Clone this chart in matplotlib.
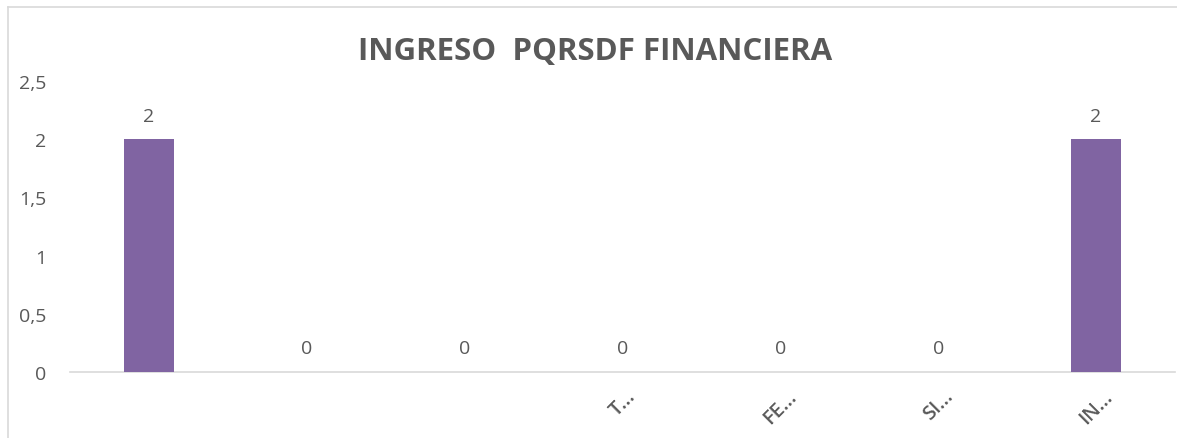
import matplotlib
matplotlib.use("Agg")
import matplotlib.pyplot as plt
from matplotlib.lines import Line2D

categories = ["", "", "", "T…", "FE…", "SI…", "IN…"]
values = [2, 0, 0, 0, 0, 0, 2]
yticks = [0, 0.5, 1, 1.5, 2, 2.5]
ytick_labels = ["0", "0,5", "1", "1,5", "2", "2,5"]
title = "INGRESO  PQRSDF FINANCIERA"

W, H = 1177, 439
plt.rcParams['font.family'] = ['Open Sans', 'DejaVu Sans']
text_color = "#595959"
bar_color = "#8064A2"
line_color = "#D9D9D9"

fig = plt.figure(figsize=(W / 100, H / 100), dpi=100)
ax = fig.add_axes([70 / W, 1 - 373 / H, (1175 - 70) / W, (373 - 82) / H])

x = list(range(len(categories)))
ax.bar(x, values, width=0.317, color=bar_color, zorder=3)
ax.set_xlim(-0.5, len(categories) - 0.5)
ax.set_ylim(0, 2.5)
ax.set_yticks(yticks)
ax.set_yticklabels(ytick_labels, fontsize=14, color=text_color)
ax.set_xticks(x)
ax.set_xticklabels(categories, rotation=45, ha="center", va="top",
                   fontsize=14.5, color=text_color, fontweight="semibold")
ax.tick_params(axis="y", length=0, pad=17)
ax.tick_params(axis="x", length=0, pad=10)
for s in ["top", "right", "left"]:
    ax.spines[s].set_visible(False)
ax.spines["bottom"].set_color(line_color)
ax.spines["bottom"].set_linewidth(1.2)

for xi, v in zip(x, values):
    ax.annotate(str(v), (xi, v), xytext=(0, 10.5), textcoords="offset points",
                ha="center", va="bottom", fontsize=14, color=text_color)

fig.text(595.5 / W, 1 - 52 / H, title, ha="center", va="center",
         fontsize=22.5, fontweight="bold", color=text_color)

fig.add_artist(Line2D([7.5 / W, 7.5 / W], [0, 1 - 7.5 / H],
                      transform=fig.transFigure, color=line_color, linewidth=1.2))
fig.add_artist(Line2D([7.5 / W, 1], [1 - 7.5 / H, 1 - 7.5 / H],
                      transform=fig.transFigure, color=line_color, linewidth=1.2))

fig.savefig("out.png", dpi=100)
